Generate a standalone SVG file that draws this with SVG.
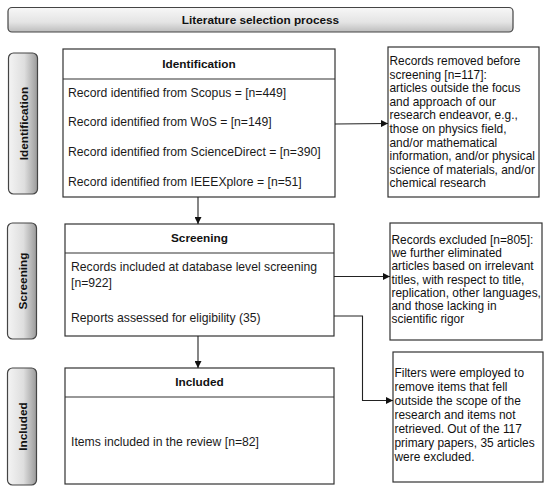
<svg xmlns="http://www.w3.org/2000/svg" width="550" height="492" viewBox="0 0 550 492">
<defs>
<linearGradient id="gTitle" x1="0" y1="0" x2="0" y2="1">
<stop offset="0" stop-color="#f7f7f7"/>
<stop offset="0.6" stop-color="#e4e4e4"/>
<stop offset="1" stop-color="#bdbdbd"/>
</linearGradient>
<linearGradient id="gSide" x1="0" y1="0" x2="1" y2="0">
<stop offset="0" stop-color="#f4f4f4"/>
<stop offset="0.55" stop-color="#dedede"/>
<stop offset="1" stop-color="#9a9a9a"/>
</linearGradient>
<marker id="arr" viewBox="0 0 10 10" refX="10" refY="5" markerWidth="7" markerHeight="7" markerUnits="userSpaceOnUse" orient="auto">
<path d="M0,0 L10,5 L0,10 z" fill="#111"/>
</marker>
</defs>
<style>
.box{fill:#fff;stroke:#333;stroke-width:1.2}
.side{fill:url(#gSide);stroke:#444;stroke-width:1.2}
.t{font-family:"Liberation Sans",Arial,sans-serif;font-size:12.2px;fill:#1a1a1a}
.r{font-family:"Liberation Sans",Arial,sans-serif;font-size:11.9px;fill:#111}
.h{font-family:"Liberation Sans",Arial,sans-serif;font-size:11.8px;font-weight:bold;fill:#111;text-anchor:middle}
.c{fill:none;stroke:#222;stroke-width:1.1}
</style>
<rect width="550" height="492" fill="#fff"/>

<g id="title">
<rect x="8" y="7.5" width="505" height="24.5" rx="4" fill="url(#gTitle)" stroke="#444" stroke-width="1.2"/>
<text class="h" x="260.5" y="23.5">Literature selection process</text>
</g>

<g id="side-identification">
<rect class="side" x="8.5" y="53" width="29" height="141" rx="5"/>
<text class="h" transform="translate(27.5,123.5) rotate(-90)">Identification</text>
</g>
<g id="side-screening">
<rect class="side" x="7.5" y="223" width="29" height="116" rx="5"/>
<text class="h" transform="translate(26.5,281) rotate(-90)">Screening</text>
</g>
<g id="side-included">
<rect class="side" x="7.5" y="368" width="29" height="117" rx="5"/>
<text class="h" transform="translate(26.5,426.5) rotate(-90)">Included</text>
</g>

<g id="identification">
<rect class="box" x="63" y="49" width="272" height="148"/>
<line x1="63" y1="79" x2="335" y2="79" stroke="#333" stroke-width="1.2"/>
<text class="h" x="199" y="68">Identification</text>
<text class="t" x="68" y="97">Record identified from Scopus = [n=449]</text>
<text class="t" x="68" y="126">Record identified from WoS = [n=149]</text>
<text class="t" x="68" y="156">Record identified from ScienceDirect = [n=390]</text>
<text class="t" x="68" y="186">Record identified from IEEEXplore = [n=51]</text>
</g>

<g id="screening">
<rect class="box" x="65" y="224" width="269" height="112"/>
<line x1="65" y1="253" x2="334" y2="253" stroke="#333" stroke-width="1.2"/>
<text class="h" x="199.5" y="242">Screening</text>
<text class="t" x="71" y="271">Records included at database level screening</text>
<text class="t" x="71" y="287">[n=922]</text>
<text class="t" x="71" y="322">Reports assessed for eligibility (35)</text>
</g>

<g id="included">
<rect class="box" x="65" y="368" width="269" height="116"/>
<line x1="65" y1="397" x2="334" y2="397" stroke="#333" stroke-width="1.2"/>
<text class="h" x="199.5" y="386">Included</text>
<text class="t" x="71" y="446">Items included in the review [n=82]</text>
</g>

<g id="records-removed">
<rect class="box" x="388" y="47" width="151" height="150"/>
<text class="r" x="389.5" y="65">Records removed before</text>
<text class="r" x="389.5" y="78.6">screening [n=117]:</text>
<text class="r" x="389.5" y="92.2">articles outside the focus</text>
<text class="r" x="389.5" y="105.8">and approach of our</text>
<text class="r" x="389.5" y="119.4">research endeavor, e.g.,</text>
<text class="r" x="389.5" y="133">those on physics field,</text>
<text class="r" x="389.5" y="146.6">and/or mathematical</text>
<text class="r" x="389.5" y="160.2">information, and/or physical</text>
<text class="r" x="389.5" y="173.8">science of materials, and/or</text>
<text class="r" x="389.5" y="187.4">chemical research</text>
</g>

<g id="records-excluded">
<rect class="box" x="390" y="223" width="152" height="117"/>
<text class="r" x="391.5" y="244">Records excluded [n=805]:</text>
<text class="r" x="391.5" y="257.2">we further eliminated</text>
<text class="r" x="391.5" y="270.4">articles based on irrelevant</text>
<text class="r" x="391.5" y="283.6">titles, with respect to title,</text>
<text class="r" x="391.5" y="296.8">replication, other languages,</text>
<text class="r" x="391.5" y="310">and those lacking in</text>
<text class="r" x="391.5" y="323.2">scientific rigor</text>
</g>

<g id="filters">
<rect class="box" x="393" y="352" width="150" height="130"/>
<text class="r" x="394.5" y="377">Filters were employed to</text>
<text class="r" x="394.5" y="391">remove items that fell</text>
<text class="r" x="394.5" y="405">outside the scope of the</text>
<text class="r" x="394.5" y="419">research and items not</text>
<text class="r" x="394.5" y="433">retrieved. Out of the 117</text>
<text class="r" x="394.5" y="447">primary papers, 35 articles</text>
<text class="r" x="394.5" y="461">were excluded.</text>
</g>

<g id="connectors">
<line class="c" x1="198" y1="197" x2="198" y2="224" marker-end="url(#arr)"/>
<line class="c" x1="198" y1="336" x2="198" y2="368" marker-end="url(#arr)"/>
<line class="c" x1="335" y1="124" x2="388" y2="123.5" marker-end="url(#arr)"/>
<line class="c" x1="334" y1="276.5" x2="390" y2="276.5" marker-end="url(#arr)"/>
<polyline class="c" points="334,316 362.5,316 362.5,400.5 393,400.5" marker-end="url(#arr)"/>
</g>
</svg>
